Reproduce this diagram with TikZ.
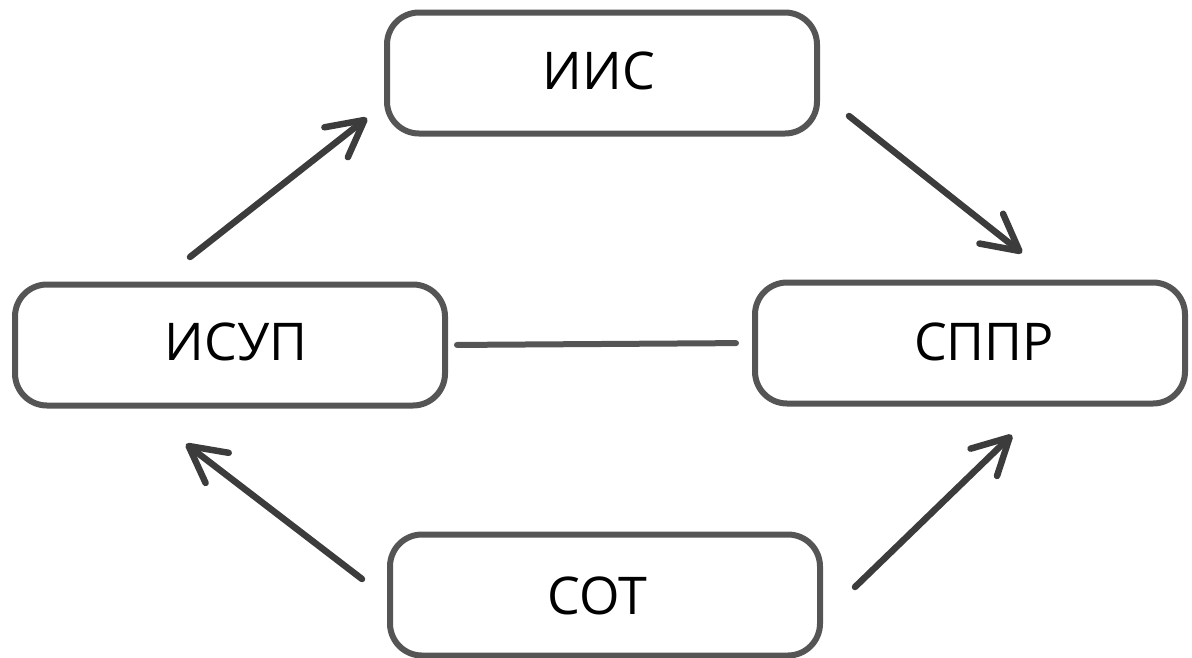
\documentclass[tikz,border=0pt]{standalone}
\usepackage{fontspec}
\setmainfont{Open Sans}
\usetikzlibrary{arrows.meta}
\definecolor{boxgray}{HTML}{555555}
\definecolor{arrowgray}{HTML}{3C3C3C}
\tikzset{
  box/.style={draw=boxgray, line width=6pt, rounded corners=32pt,
    minimum width=430pt, minimum height=121pt, inner sep=0pt, fill=white},
  lbl/.style={font=\fontsize{52}{60}\selectfont, text=black},
  flow/.style={draw=arrowgray, line width=6.5pt, line cap=round,
    -{Straight Barb[length=36pt, width=38pt, round]}},
  link/.style={draw=boxgray, line width=6pt, line cap=round}
}
\begin{document}
\begin{tikzpicture}[x=1pt, y=-1pt]
  \useasboundingbox (0,0) rectangle (1192,657);
  % system boxes
  \node[box, label={[lbl, xshift=-3pt, yshift=2pt]center:ИИС}] (iis) at (602,73) {};
  \node[box, label={[lbl, xshift=6pt, yshift=3pt]center:ИСУП}] (isup) at (230,345) {};
  \node[box, label={[lbl, xshift=14pt, yshift=1pt]center:СППР}] (sppr) at (970,343) {};
  \node[box, label={[lbl, xshift=-8pt, yshift=-1pt]center:СОТ}] (sot) at (605,595) {};
  % arrow ends
  \coordinate (a1s) at (190,257); \coordinate (a1e) at (367,118);
  \coordinate (a2s) at (849,116); \coordinate (a2e) at (1022,253);
  \coordinate (a3s) at (362,579); \coordinate (a3e) at (186,444);
  \coordinate (a4s) at (855,587); \coordinate (a4e) at (1012,435);
  % connectors
  \draw[link, shorten <=9pt, shorten >=16pt] (isup.east) -- (sppr.west);
  \draw[flow] (a1s) -- (a1e);
  \draw[flow] (a2s) -- (a2e);
  \draw[flow] (a3s) -- (a3e);
  \draw[flow] (a4s) -- (a4e);
\end{tikzpicture}
\end{document}
